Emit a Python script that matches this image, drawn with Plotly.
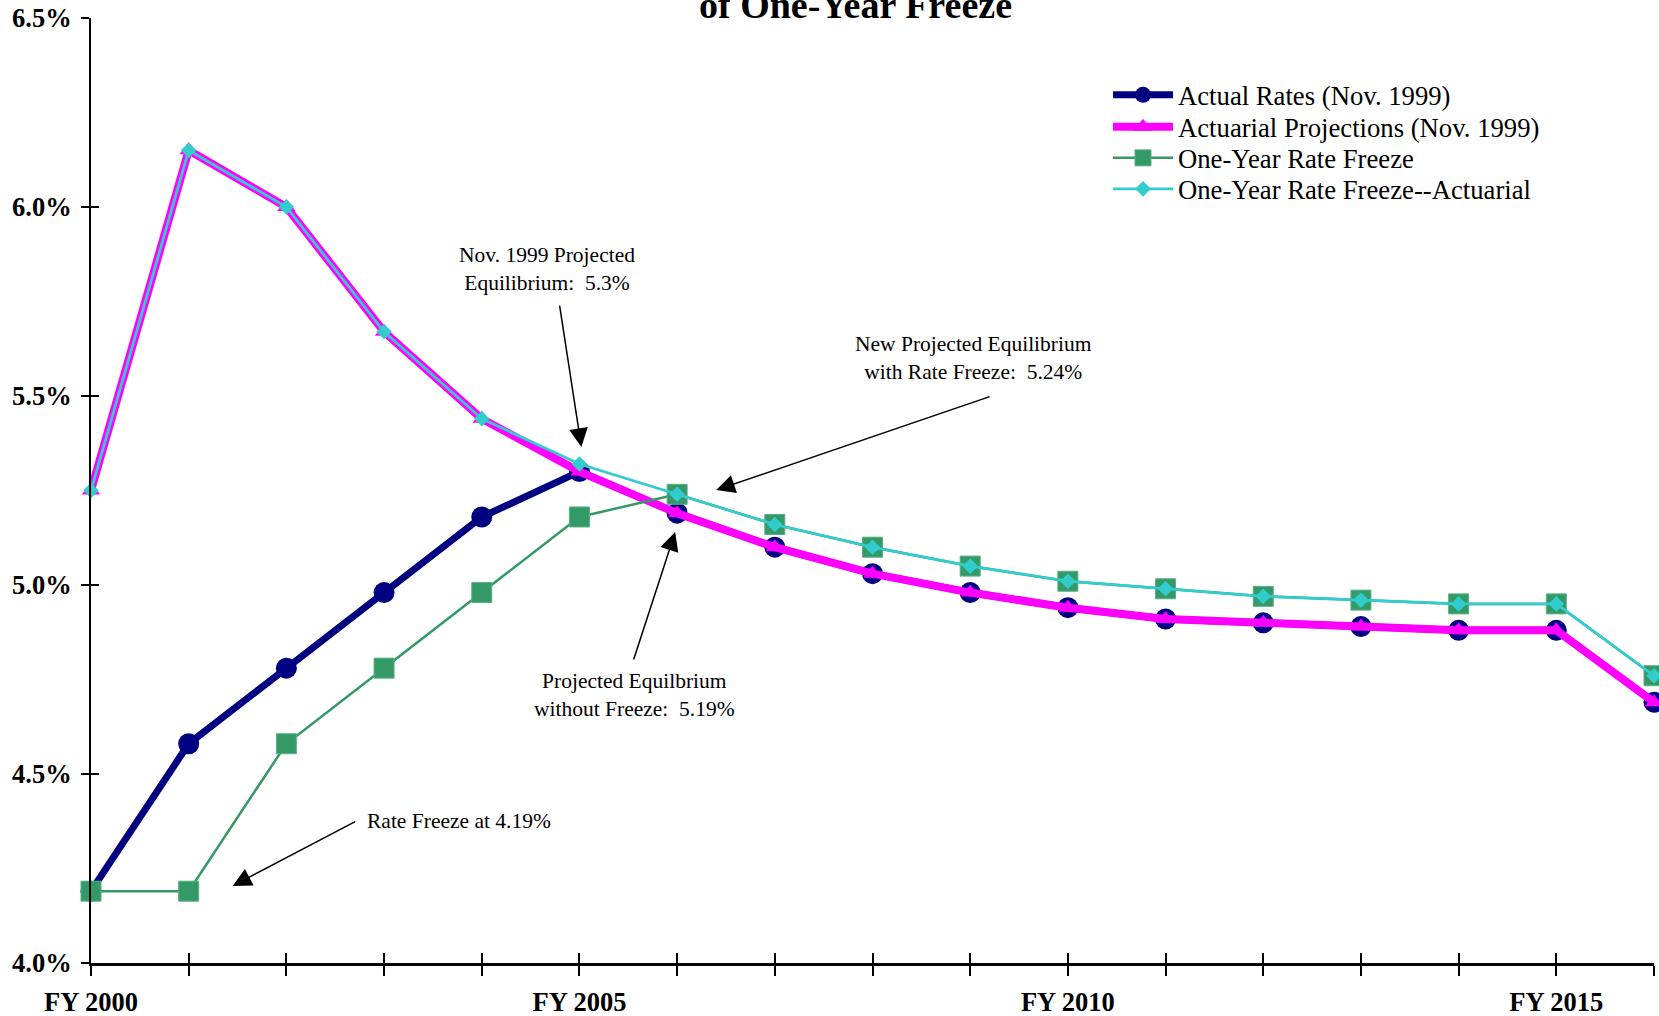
import plotly.graph_objects as go

# ---------------- data ----------------
years = list(range(2000, 2017))
actual_rates = [4.19, 4.58, 4.78, 4.98, 5.18, 5.30, 5.19, 5.10, 5.03, 4.98,
                4.94, 4.91, 4.90, 4.89, 4.88, 4.88, 4.69]
actuarial_projections = [5.25, 6.15, 6.00, 5.67, 5.44, 5.30, 5.19, 5.10, 5.03, 4.98,
                         4.94, 4.91, 4.90, 4.89, 4.88, 4.88, 4.69]
one_year_freeze = [4.19, 4.19, 4.58, 4.78, 4.98, 5.18, 5.24, 5.16, 5.10, 5.05,
                   5.01, 4.99, 4.97, 4.96, 4.95, 4.95, 4.76]
one_year_freeze_actuarial = [5.25, 6.15, 6.00, 5.67, 5.44, 5.32, 5.24, 5.16, 5.10, 5.05,
                             5.01, 4.99, 4.97, 4.96, 4.95, 4.95, 4.76]
x_tick_text = ["FY %d" % y if y % 5 == 0 else "" for y in years]
y_tick_vals = [4.0, 4.5, 5.0, 5.5, 6.0, 6.5]
y_tick_text = ["4.0%", "4.5%", "5.0%", "5.5%", "6.0%", "6.5%"]

FONT = "Liberation Serif, Times New Roman, serif"

fig = go.Figure()
fig.add_trace(go.Scatter(
    x=years, y=actual_rates, name="Actual Rates (Nov. 1999)", mode="lines+markers",
    line=dict(color="#000080", width=7), marker=dict(symbol="circle", size=21, color="#000080"),
    cliponaxis=False, legend="legend"))
fig.add_trace(go.Scatter(
    x=years, y=actuarial_projections, name="Actuarial Projections (Nov. 1999)", mode="lines+markers",
    line=dict(color="#FF00FF", width=8), marker=dict(symbol="triangle-up", size=16, color="#FF00FF"),
    cliponaxis=False, legend="legend2"))
fig.add_trace(go.Scatter(
    x=years, y=one_year_freeze, name="One-Year Rate Freeze", mode="lines+markers",
    line=dict(color="#339966", width=2.5),
    marker=dict(symbol="square", size=20, color="#339966", line=dict(color="#5aaf85", width=1)),
    cliponaxis=False, legend="legend3"))
fig.add_trace(go.Scatter(
    x=years, y=one_year_freeze_actuarial, name="One-Year Rate Freeze--Actuarial", mode="lines+markers",
    line=dict(color="#33CCCC", width=2.75), marker=dict(symbol="diamond", size=12, color="#33CCCC"),
    cliponaxis=False, legend="legend4"))
# invisible helper trace for overlay axes (crossing tick marks)
fig.add_trace(go.Scatter(x=years, y=actual_rates, xaxis="x2", yaxis="y2", mode="lines",
                         line=dict(width=0), opacity=0, showlegend=False, hoverinfo="skip"))

axis_common = dict(showgrid=False, zeroline=False, linecolor="black", tickcolor="black",
                   automargin=False)
legend_rows = [95, 127, 158, 189]  # pixel rows of legend entries


def legend_at(row):
    return dict(x=(1108 - 91) / 1563, y=1 - (row - 18) / 945, xanchor="left", yanchor="middle",
                font=dict(family=FONT, size=26.7, color="black"),
                bgcolor="rgba(0,0,0,0)", itemwidth=60)


fig.update_layout(
    width=1659, height=1016,
    margin=dict(l=91, r=5, t=18, b=53, autoexpand=False),
    paper_bgcolor="white", plot_bgcolor="white",
    font=dict(family=FONT, color="black"),
    showlegend=True,
    legend=legend_at(legend_rows[0]),
    legend2=legend_at(legend_rows[1]),
    legend3=legend_at(legend_rows[2]),
    legend4=legend_at(legend_rows[3]),
    xaxis=dict(range=[2000, 2016], tickvals=years, ticktext=x_tick_text,
               ticks="outside", ticklen=10, tickwidth=2, showline=True, linewidth=3,
               tickfont=dict(family=FONT, size=26.5, color="black", weight="bold"),
               ticklabelstandoff=3, **axis_common),
    yaxis=dict(range=[4.0, 6.5], tickvals=y_tick_vals, ticktext=y_tick_text,
               ticks="outside", ticklen=8, tickwidth=2, showline=True, linewidth=2,
               tickfont=dict(family=FONT, size=26.5, color="black", weight="bold"),
               ticklabelstandoff=4, **axis_common),
    xaxis2=dict(range=[2000, 2016], overlaying="x", anchor="y2", side="bottom",
                tickvals=years, ticks="inside", ticklen=10, tickwidth=2,
                showticklabels=False, showline=False, **axis_common),
    yaxis2=dict(range=[4.0, 6.5], overlaying="y", anchor="x2", side="left",
                tickvals=y_tick_vals, ticks="inside", ticklen=8, tickwidth=2,
                showticklabels=False, showline=False, **axis_common),
)

ann_font = dict(family=FONT, size=21.5, color="black")
annotations = [
    # title (its upper part is cut off by the top edge, as in the reference)
    dict(text="<b>of One-Year Freeze</b>", x=0.4894, y=1.0137, xref="paper", yref="paper",
         xanchor="center", yanchor="middle", showarrow=False,
         font=dict(family=FONT, size=38, color="black")),
    dict(text="Nov. 1999 Projected<br>Equilibrium:  5.3%", x=2004.67, y=5.837,
         xanchor="center", yanchor="middle", showarrow=False, font=ann_font),
    dict(text="New Projected Equilibrium<br>with Rate Freeze:  5.24%", x=2009.03, y=5.60,
         xanchor="center", yanchor="middle", showarrow=False, font=ann_font),
    dict(text="Projected Equilbrium<br>without Freeze:  5.19%", x=2005.56, y=4.709,
         xanchor="center", yanchor="middle", showarrow=False, font=ann_font),
    dict(text="Rate Freeze at 4.19%", x=2002.80, y=4.376,
         xanchor="left", yanchor="middle", showarrow=False, font=ann_font),
]
arrows = [
    (2005.02, 5.365, -22, -143),
    (2006.40, 5.251, 275, -94),
    (2005.98, 5.14, -42, 129),
    (2001.45, 4.204, 124, -65),
]
for (tx, ty, ax, ay) in arrows:
    annotations.append(dict(text="", x=tx, y=ty, ax=ax, ay=ay, showarrow=True,
                            arrowhead=2, arrowsize=2.5, arrowwidth=1.5, arrowcolor="black",
                            standoff=0, startstandoff=0))
fig.update_layout(annotations=annotations)

fig.write_html("out.html", config={"displayModeBar": False},
               post_script="document.body.style.margin='0';document.body.style.overflow='hidden';")
